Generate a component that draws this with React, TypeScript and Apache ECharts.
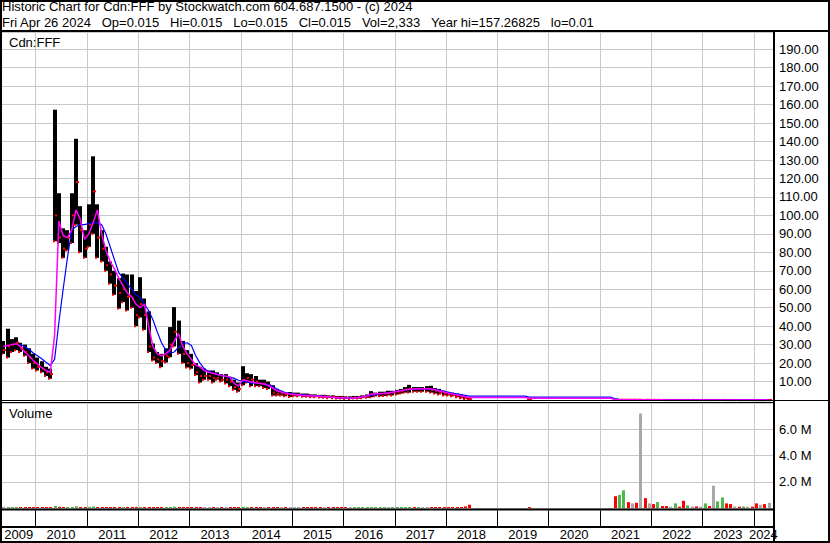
import React, { useEffect, useRef } from "react";
import * as echarts from "echarts";

// ---------- data (monthly, May 2009 .. Apr 2024; null = no trading) ----------
const START_YEAR = 2009;
const START_MONTH = 5;
const X_MIN = 2009.35;
const X_MAX = 2024.376;

const yearLabels = ["2009", "2010", "2011", "2012", "2013", "2014", "2015", "2016", "2017", "2018", "2019", "2020", "2021", "2022", "2023", "2024"];

const N6 = [null, null, null, null, null, null];
const N7 = [null, null, null, null, null, null, null];
const N4 = [null, null, null, null];
const N12 = [null, null, null, null, null, null, null, null, null, null, null, null];
const N3 = [null, null, null];

const highs: (number | null)[] = [
  32, 38.6, 33, 34, 31, 30, 28, 25,
  23, 21, 18, 17, 157.27, 112, 93, 92, 112, 141.5, 105, 92,
  106, 132, 106, 92, 83, 75, 70, 66, 68.5, 68, 68, 59,
  66.5, 55, 48, 30.6, 26, 25, 28, 39.5, 50.3, 43, 32, 27,
  25, 20, 18, 17, 16, 16, 15, 14, 14, 12.5, 11, 9.5,
  18.3, 14.5, 14, 13, 11, 11, 10, 8, 6, 5, 4.3, 4.3,
  4, 4, 3.5, 3.5, 3, 3, 2.8, 2.8, 2.5, 2.5, 2.2, 2.2,
  2, 2, 2.2, 2.2, 2.5, 3, 4.8, 4, 4.5, 4.5, 5, 5,
  5.5, 6, 7, 8.2, 7, 7, 7, 7.5, 7.7, 6.5, 6, 5,
  4.5, 4, 3.5, 3, 2, 1.5, ...N6,
  ...N7, 0.35, ...N4,
  ...N12,
  ...N3, 0.16, 0.18, 0.2, 0.17, 0.15, 0.14, 0.16, 0.11, 0.1,
  0.09, 0.1, 0.09, 0.08, 0.07, 0.09, 0.08, 0.07, 0.07, 0.07, 0.06, 0.06,
  0.07, 0.06, 0.07, 0.07, 0.09, 0.07, 0.05, 0.05, 0.04, 0.04, 0.04, 0.035,
  0.03, 0.025, 0.02, 0.015,
];

const lows: (number | null)[] = [
  25, 23, 26, 27, 26, 24, 20, 17,
  16, 15, 13, 11.5, 86, 85, 77, 81, 85, 95, 80, 77,
  83, 90, 77, 75, 70, 63, 57, 49.5, 53, 48.5, 50, 40,
  44.7, 38, 26, 21.4, 20, 17.8, 20.3, 23.2, 29, 25, 20, 17.6,
  17, 13.5, 9.5, 11, 11, 9.5, 11, 10, 9, 7.5, 5.5, 4.5,
  8, 9.5, 7.5, 7.5, 7.5, 6.5, 6, 2.4, 2.4, 2.4, 2, 1.6,
  2, 2, 1.8, 1.8, 1.5, 1.5, 1.3, 1.2, 1, 1, 0.8, 0.8,
  0.6, 0.6, 0.8, 0.8, 1, 1.2, 1.5, 2, 2, 2.2, 2.5, 2.5,
  3, 3.5, 4, 4, 4.5, 4.5, 4.5, 4.5, 4, 3.5, 3, 2.5,
  2.5, 2, 1.5, 1, 0.6, 0.1, ...N6,
  ...N7, 0.3, ...N4,
  ...N12,
  ...N3, 0.07, 0.09, 0.1, 0.1, 0.1, 0.08, 0.07, 0.06, 0.07,
  0.06, 0.06, 0.06, 0.05, 0.05, 0.05, 0.05, 0.04, 0.05, 0.05, 0.04, 0.04,
  0.04, 0.04, 0.04, 0.05, 0.05, 0.04, 0.035, 0.03, 0.025, 0.03, 0.03, 0.02,
  0.015, 0.015, 0.01, 0.015,
];

const closes: (number | null)[] = [
  27, 29, 30, 31, 28, 26, 23, 20,
  18, 17, 15, 14, 100, 88, 82, 88, 100, 118, 92, 82,
  95, 113, 88, 82, 73, 68, 62, 58, 60, 56, 55, 46,
  52, 46, 29, 23, 22, 21, 24, 30, 37, 29, 25, 20,
  19, 15, 13, 13, 13, 12, 12, 11, 11, 10, 7, 6,
  11, 12, 11, 10, 9, 9, 8, 4, 3.5, 3.5, 3, 3,
  3, 3, 2.8, 2.5, 2.3, 2.2, 2, 2, 1.8, 1.7, 1.5, 1.4,
  1.2, 1.2, 1.4, 1.5, 1.8, 2, 2.8, 3, 3.2, 3.5, 3.5, 4,
  4.5, 5, 5.5, 6, 5.8, 6, 6, 6, 5.5, 5, 4, 3.5,
  3.2, 2.8, 2.2, 1.5, 1, 0.35, ...N6,
  ...N7, 0.3, ...N4,
  ...N12,
  ...N3, 0.1, 0.12, 0.14, 0.12, 0.12, 0.1, 0.1, 0.08, 0.08,
  0.07, 0.08, 0.07, 0.06, 0.06, 0.07, 0.06, 0.05, 0.06, 0.06, 0.05, 0.05,
  0.06, 0.05, 0.05, 0.06, 0.07, 0.05, 0.04, 0.04, 0.03, 0.035, 0.035, 0.03,
  0.02, 0.02, 0.015, 0.015,
];

const volumes: (number | null)[] = [
  90000, 70000, 60000, 80000, 50000, 70000, 60000, 50000,
  40000, 50000, 40000, 60000, 150000, 90000, 70000, 60000, 80000, 120000, 70000, 60000,
  80000, 110000, 70000, 60000, 50000, 60000, 50000, 70000, 60000, 50000, 60000, 70000,
  60000, 50000, 80000, 60000, 50000, 40000, 50000, 70000, 100000, 60000, 50000, 40000,
  40000, 50000, 60000, 40000, 30000, 40000, 30000, 30000, 40000, 50000, 60000, 50000,
  90000, 60000, 50000, 40000, 30000, 30000, 40000, 60000, 50000, 40000, 40000, 30000,
  40000, 30000, 30000, 40000, 30000, 30000, 20000, 30000, 30000, 20000, 30000, 30000,
  30000, 20000, 30000, 30000, 40000, 40000, 80000, 60000, 50000, 40000, 40000, 50000,
  50000, 40000, 50000, 70000, 50000, 40000, 40000, 60000, 50000, 40000, 50000, 40000,
  60000, 50000, 60000, 70000, 120000, 250000, ...N6,
  ...N7, 30000, ...N4,
  ...N12,
  ...N3, 900000, 1000000, 1350000, 450000, 350000, 400000, 7200000, 750000, 350000,
  300000, 450000, 150000, 150000, 100000, 350000, 100000, 550000, 200000, 120000, 120000, 100000,
  350000, 150000, 1700000, 500000, 800000, 350000, 300000, 120000, 100000, 120000, 100000, 100000,
  350000, 250000, 300000, 400000,
];

// short moving average (magenta)
const maFast: (number | null)[] = [
  29, 29.5, 30, 30.5, 29, 26, 24, 21.5,
  19.5, 17.5, 16, 15, 35, 97, 89, 88, 92, 103, 98, 87,
  90, 96, 103, 90, 81, 75, 71, 66, 62, 58, 56, 52,
  50, 52, 40, 29, 25, 24, 25, 27, 32, 36, 29, 25,
  22, 19, 17.8, 16, 15, 14.5, 13.8, 13.2, 13, 12.4, 9, 7.5,
  10.9, 10.5, 9.8, 9.3, 9, 8.7, 7.8, 6.5, 5, 4.3, 3.6, 3.2,
  3, 2.8, 2.5, 2.4, 2.2, 2.1, 2, 1.8, 1.7, 1.5, 1.3, 1.2,
  1.1, 1.1, 1.2, 1.3, 1.6, 2.2, 3.2, 3.4, 3.5, 3.6, 3.8, 4.2,
  4.6, 5, 5.5, 5.8, 6, 6.1, 6.1, 6.1, 6, 5.5, 4.9, 4.3,
  3.8, 3.2, 2.8, 2.3, 1.8, 1.3, 1.3, 1.3, 1.3, 1.3, 1.3, 1.3,
  1.3, 1.3, 1.3, 1.3, 1.3, 1.3, 1.3, 1, 1, 1, 1, 1,
  1, 1, 1, 1, 1, 1, 1, 1, 1, 1, 1, 1,
  1, 1, 1, 0.1, 0.11, 0.12, 0.12, 0.12, 0.11, 0.1, 0.09, 0.08,
  0.07, 0.07, 0.07, 0.06, 0.06, 0.06, 0.06, 0.055, 0.055, 0.06, 0.055, 0.05,
  0.055, 0.05, 0.05, 0.055, 0.06, 0.055, 0.045, 0.04, 0.035, 0.035, 0.035, 0.03,
  0.025, 0.02, 0.017, 0.015,
];

// long moving average (blue)
const maSlow: (number | null)[] = [
  null, null, null, null, 30, 29, 27.5, 25.5,
  24, 22.3, 20.5, 18.7, 22, 42, 60, 77, 92, 94, 95, 95,
  95.5, 96, 96, 95, 90, 83, 76, 69, 66, 63, 60, 57,
  55.5, 52, 48.5, 43.5, 37, 31, 27, 25.3, 26, 28.6, 30.5, 31,
  29.5, 24, 20, 17, 15.5, 14.7, 14, 13.4, 12.8, 12.4, 11.7, 10.7,
  10.2, 9.6, 9.3, 9.1, 9, 8.8, 8.4, 7.3, 6, 4.8, 4, 3.6,
  3.4, 3.1, 2.9, 2.7, 2.5, 2.4, 2.2, 2, 1.8, 1.5, 1.3, 1.2,
  1.2, 1.2, 1.2, 1.3, 1.6, 2.1, 2.5, 2.9, 3.3, 3.6, 3.9, 4.3,
  4.7, 5.1, 5.5, 5.7, 5.9, 6, 6, 6, 5.9, 5.6, 5.3, 4.8,
  4.2, 3.7, 3.3, 2.9, 2.5, 2.1, 2.1, 2.1, 2.1, 2.1, 2.1, 2.1,
  2.1, 2.1, 2.1, 2.1, 2.1, 2.1, 2.1, 1.6, 1.6, 1.6, 1.6, 1.6,
  1.6, 1.6, 1.6, 1.6, 1.6, 1.6, 1.6, 1.6, 1.6, 1.6, 1.6, 1.6,
  1.6, 1.6, 1.6, 0.8, 0.3, 0.15, 0.12, 0.12, 0.11, 0.1, 0.1, 0.09,
  0.08, 0.08, 0.075, 0.07, 0.07, 0.065, 0.065, 0.06, 0.06, 0.06, 0.055, 0.055,
  0.055, 0.055, 0.05, 0.05, 0.055, 0.055, 0.05, 0.045, 0.04, 0.04, 0.035, 0.035,
  0.03, 0.025, 0.02, 0.02,
];

const header1 = "Historic Chart for Cdn:FFF by Stockwatch.com 604.687.1500 - (c) 2024";
const header2Parts = ["Fri Apr 26 2024", "Op=0.015", "Hi=0.015", "Lo=0.015", "Cl=0.015", "Vol=2,333", "Year hi=157.26825", "lo=0.01"];
const symbolLabel = "Cdn:FFF";
const volumeLabel = "Volume";

// ---------- helpers ----------
const FONT = '13px "Liberation Sans", Arial, sans-serif';
const monthTime = (k: number) => START_YEAR + (START_MONTH - 1 + k + 0.5) / 12;

export default function App() {
  const ref = useRef<HTMLDivElement>(null);

  useEffect(() => {
    document.body.style.margin = "0";
    if (!ref.current) return;
    const chart = echarts.init(ref.current, undefined, { renderer: "svg" });

    const barData: number[][] = [];
    closes.forEach((c, k) => {
      if (c != null && highs[k] != null && lows[k] != null) barData.push([monthTime(k), highs[k] as number, lows[k] as number, c]);
    });

    const volData: number[][] = [];
    const volColors: string[] = [];
    let prev: number | null = null;
    volumes.forEach((v, k) => {
      const c = closes[k];
      if (v != null) {
        volData.push([monthTime(k), v]);
        let col = "#a8a8a8";
        if (prev != null && c != null) {
          if (c > prev) col = "#4cb84c";
          else if (c < prev) col = "#ff0000";
        }
        volColors.push(col);
      }
      if (c != null) prev = c;
    });

    const boundaries = yearLabels.slice(1).map((y) => [Number(y), 0]);
    const labelMids = yearLabels.map((y) => {
      const a = Math.max(Number(y), X_MIN);
      const b = Math.min(Number(y) + 1, X_MAX);
      return [(a + b) / 2, 0];
    });

    const vLines = (color: string) => (params: any, api: any) => {
      const p = api.coord([api.value(0), 0]);
      const cs = params.coordSys;
      const x = Math.round(p[0]) + 0.5;
      return {
        type: "line",
        shape: { x1: x, y1: cs.y, x2: x, y2: cs.y + cs.height },
        style: { stroke: color, lineWidth: 1 },
      };
    };

    const xAxisBase = (i: number) => ({ type: "value", gridIndex: i, min: X_MIN, max: X_MAX, show: false });
    const yLabel = {
      color: "#000",
      fontSize: 13,
      fontFamily: '"Liberation Sans", Arial, sans-serif',
      margin: 6,
      showMinLabel: false,
      showMaxLabel: false,
    };

    const option: any = {
      animation: false,
      backgroundColor: "#ffffff",
      grid: [
        { left: 2, top: 32, width: 771, height: 368 },
        { left: 2, top: 403, width: 771, height: 105 },
        { left: 2, top: 510.5, width: 771, height: 15.5 },
        { left: 2, top: 528, width: 771, height: 13 },
      ],
      xAxis: [xAxisBase(0), xAxisBase(1), xAxisBase(2), xAxisBase(3)],
      yAxis: [
        {
          type: "value", gridIndex: 0, position: "right", min: 0, max: 199.35, interval: 10,
          axisLine: { show: false }, axisTick: { show: false },
          splitLine: { show: true, lineStyle: { color: "#c8c8c8", width: 1 } },
          axisLabel: { ...yLabel, formatter: (v: number) => v.toFixed(2) },
        },
        {
          type: "value", gridIndex: 1, position: "right", min: 0, max: 8000000, interval: 2000000,
          axisLine: { show: false }, axisTick: { show: false },
          splitLine: { show: true, lineStyle: { color: "#c8c8c8", width: 1 } },
          axisLabel: { ...yLabel, formatter: (v: number) => (v / 1e6).toFixed(1) + " M" },
        },
        { type: "value", gridIndex: 2, min: 0, max: 1, show: false },
        { type: "value", gridIndex: 3, min: 0, max: 1, show: false },
      ],
      series: [
        { type: "custom", xAxisIndex: 0, yAxisIndex: 0, data: boundaries, renderItem: vLines("#c8c8c8"), z: 1, silent: true },
        { type: "custom", xAxisIndex: 1, yAxisIndex: 1, data: boundaries, renderItem: vLines("#c8c8c8"), z: 1, silent: true },
        { type: "custom", xAxisIndex: 2, yAxisIndex: 2, data: boundaries, renderItem: vLines("#000000"), z: 1, silent: true },
        {
          type: "custom", xAxisIndex: 3, yAxisIndex: 3, data: labelMids, z: 5, silent: true,
          renderItem: (params: any, api: any) => {
            const p = api.coord([api.value(0), 0]);
            const cs = params.coordSys;
            return {
              type: "text",
              x: p[0],
              y: cs.y + cs.height / 2,
              style: {
                text: yearLabels[params.dataIndex],
                font: FONT,
                fill: "#000",
                align: "center",
                verticalAlign: "middle",
                textAlign: "center",
                textVerticalAlign: "middle",
              },
            };
          },
        },
        {
          type: "custom", xAxisIndex: 0, yAxisIndex: 0, data: barData, z: 2, silent: true,
          renderItem: (params: any, api: any) => {
            const t = api.value(0);
            const ph = api.coord([t, api.value(1)]);
            const pl = api.coord([t, api.value(2)]);
            const pc = api.coord([t, api.value(3)]);
            const x = Math.round(ph[0]);
            return {
              type: "group",
              children: [
                { type: "rect", shape: { x: x - 2, y: ph[1], width: 4, height: Math.max(1.2, pl[1] - ph[1]) }, style: { fill: "#000" } },
                { type: "rect", shape: { x: x, y: pc[1] - 1, width: 3, height: 2 }, style: { fill: "#ff0000" } },
                { type: "rect", shape: { x: x - 2, y: pl[1] - 1, width: 2, height: 2 }, style: { fill: "#ff0000" } },
              ],
            };
          },
        },
        {
          type: "line", xAxisIndex: 0, yAxisIndex: 0, z: 3, silent: true, symbol: "none", showSymbol: false,
          data: maSlow.map((v, k) => [monthTime(k), v]),
          lineStyle: { color: "#0000ff", width: 1.2 },
        },
        {
          type: "line", xAxisIndex: 0, yAxisIndex: 0, z: 4, silent: true, symbol: "none", showSymbol: false,
          data: maFast.map((v, k) => [monthTime(k), v]),
          lineStyle: { color: "#ff00ff", width: 1.5 },
        },
        {
          type: "custom", xAxisIndex: 1, yAxisIndex: 1, data: volData, z: 2, silent: true,
          renderItem: (params: any, api: any) => {
            const t = api.value(0);
            const p0 = api.coord([t, 0]);
            const p1 = api.coord([t, api.value(1)]);
            const x = Math.round(p0[0]);
            const h = Math.max(1, p0[1] - p1[1]);
            return { type: "rect", shape: { x: x - 1, y: p0[1] - h, width: 3, height: h }, style: { fill: volColors[params.dataIndex] } };
          },
        },
      ],
      graphic: [
        { type: "text", z: 100, x: 2, y: 6, style: { text: header1, font: FONT, fill: "#000", textVerticalAlign: "middle", verticalAlign: "middle" } },
        { type: "text", z: 100, x: 2, y: 22.5, style: { text: header2Parts.join("\u00a0\u00a0\u00a0"), font: FONT, fill: "#000", textVerticalAlign: "middle", verticalAlign: "middle" } },
        { type: "text", z: 100, x: 9, y: 42, style: { text: symbolLabel, font: FONT, fill: "#000", textVerticalAlign: "middle", verticalAlign: "middle" } },
        { type: "text", z: 100, x: 9, y: 413.5, style: { text: volumeLabel, font: FONT, fill: "#000", textVerticalAlign: "middle", verticalAlign: "middle" } },
        { type: "rect", z: 100, shape: { x: 1, y: 1, width: 828, height: 541 }, style: { fill: "none", stroke: "#000", lineWidth: 2 } },
        { type: "line", z: 100, shape: { x1: 0, y1: 31, x2: 830, y2: 31 }, style: { stroke: "#000", lineWidth: 2 } },
        { type: "line", z: 100, shape: { x1: 774, y1: 31, x2: 774, y2: 543 }, style: { stroke: "#000", lineWidth: 2 } },
        { type: "line", z: 100, shape: { x1: 0, y1: 400.5, x2: 830, y2: 400.5 }, style: { stroke: "#000", lineWidth: 1 } },
        { type: "line", z: 100, shape: { x1: 0, y1: 402.5, x2: 774, y2: 402.5 }, style: { stroke: "#000", lineWidth: 1 } },
        { type: "line", z: 100, shape: { x1: 0, y1: 509.5, x2: 774, y2: 509.5 }, style: { stroke: "#000", lineWidth: 2 } },
        { type: "line", z: 100, shape: { x1: 0, y1: 527, x2: 774, y2: 527 }, style: { stroke: "#000", lineWidth: 2 } },
      ],
    };

    chart.setOption(option);
    return () => chart.dispose();
  }, []);

  return <div ref={ref} style={{ position: "absolute", left: 0, top: 0, width: 830, height: 543 }} />;
}
